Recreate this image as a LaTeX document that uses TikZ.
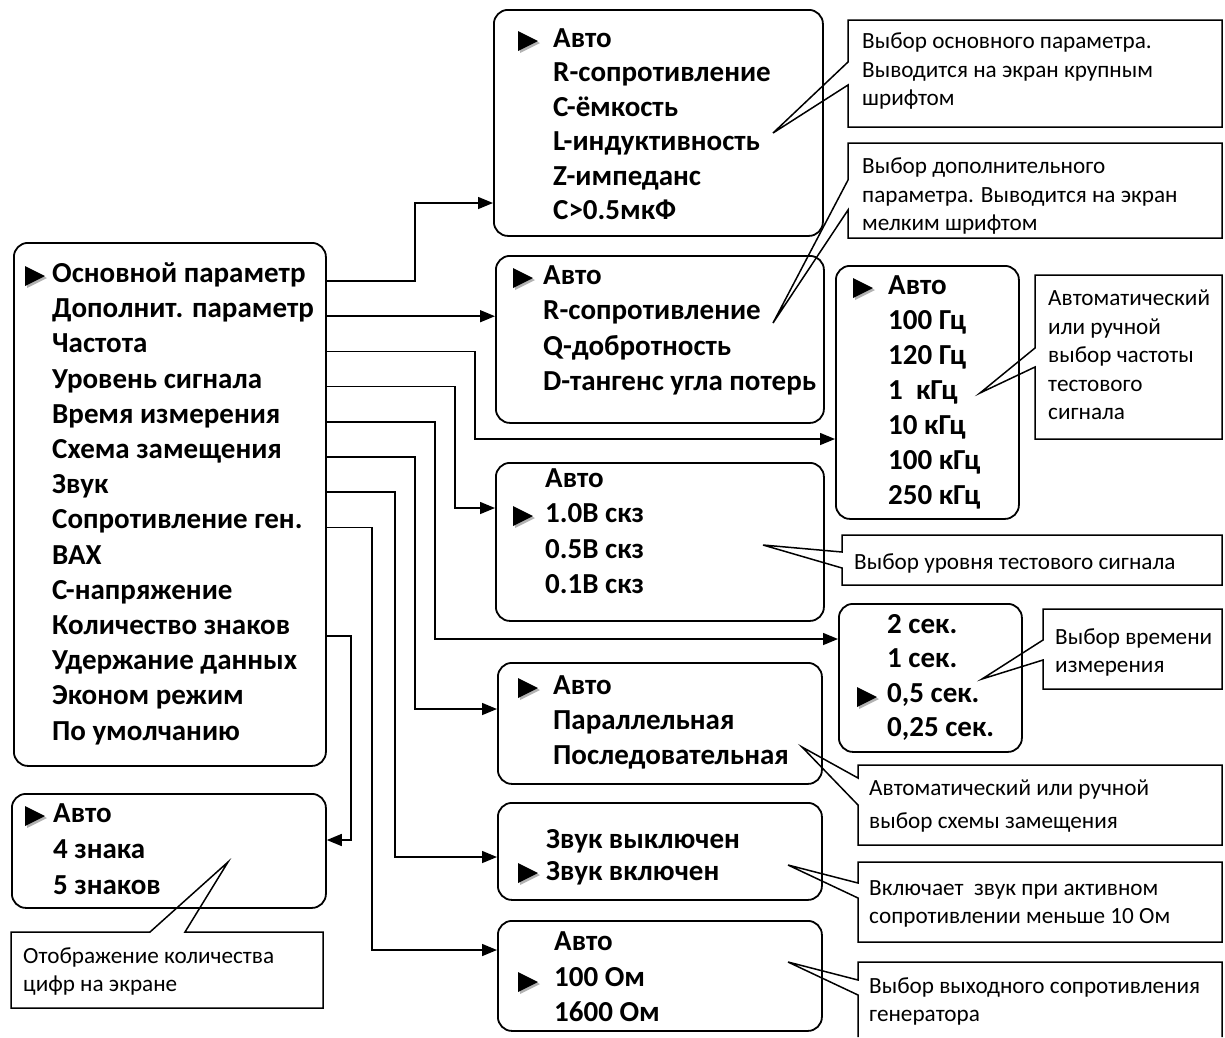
\documentclass[tikz,border=0pt]{standalone}
\usepackage{fontspec}
\setmainfont{Carlito}
\usetikzlibrary{arrows.meta}

\tikzset{
  menubox/.style={draw, line width=1.8pt, rounded corners=14pt, anchor=north west, inner sep=0pt},
  item/.style={anchor=west, inner sep=0pt, text height=20pt, text depth=7pt, font=\bfseries\fontsize{29}{31}\selectfont},
  note/.style={anchor=north west, inner sep=0pt, align=left, font=\fontsize{23.2}{28.5}\selectfont},
  balloon/.style={draw, line width=1.5pt, line join=miter},
  link/.style={line width=1.5pt, -{Triangle[length=15pt,width=12pt]}}
}

% list of menu lines: prefix, x, first y, step, items
\newcommand{\menulist}[5]{\foreach \t [count=\i] in {#5} \node[item] (#1\i) at (#2,{#3+#4*(\i-1)}) {\t};}
% selection mark
\newcommand{\selmark}[2]{%
  \fill[black!30] (#1+2,#2-8) -- (#1+22,#2+2) -- (#1+2,#2+12) -- cycle;
  \fill (#1,#2-10) -- (#1+20,#2) -- (#1,#2+10) -- cycle;}
% callout: left, top, right, bottom, base1, base2, tip x, tip y
\newcommand{\balloon}[8]{\draw[balloon] (#1,#2) -- (#3,#2) -- (#3,#4) -- (#1,#4) -- (#1,#6) -- (#7,#8) -- (#1,#5) -- cycle;}

\begin{document}
\begin{tikzpicture}[x=1pt,y=-1pt]
\useasboundingbox (0,0) rectangle (1225,1037);

% main menu
\node[menubox, minimum width=312pt, minimum height=523pt] (main) at (13,242) {};
\menulist{m}{52}{276}{35.2}{Основной параметр, Дополнит. параметр, Частота, Уровень сигнала, Время измерения, Схема замещения, Звук, Сопротивление ген., ВАХ, С-напряжение, Количество знаков, Удержание данных, Эконом режим, По умолчанию}
\selmark{25}{276}

% sub menus
\node[menubox, minimum width=329pt, minimum height=226pt] (boxA) at (493,9) {};
\menulist{a}{553}{41}{34.4}{Авто, R-сопротивление, С-ёмкость, L-индуктивность, Z-импеданс, C>0.5мкФ}
\selmark{518}{41}

\node[menubox, minimum width=328pt, minimum height=167pt] (boxB) at (495,255) {};
\menulist{b}{543}{278}{35.3}{Авто, R-сопротивление, Q-добротность, D-тангенс угла потерь}
\selmark{513}{278}

\node[menubox, minimum width=183pt, minimum height=253pt] (boxF) at (835,265) {};
\menulist{f}{888}{288}{35}{Авто, 100 Гц, 120 Гц, 1\ \ кГц, 10 кГц, 100 кГц, 250 кГц}
\selmark{853}{288}

\node[menubox, minimum width=328pt, minimum height=158pt] (boxC) at (495,462) {};
\menulist{c}{545}{481}{35.3}{Авто, 1.0В скз, 0.5В скз, 0.1В скз}
\selmark{513}{516}

\node[menubox, minimum width=183pt, minimum height=148pt] (boxT) at (838,603) {};
\menulist{t}{887}{627}{34.3}{2 сек., 1 сек., {0,5 сек.}, {0,25 сек.}}
\selmark{857}{697}

\node[menubox, minimum width=324pt, minimum height=121pt] (boxS) at (497,662) {};
\menulist{s}{553}{688}{35}{Авто, Параллельная, Последовательная}
\selmark{518}{688}

\node[menubox, minimum width=324pt, minimum height=97pt] (boxZ) at (497,802) {};
\menulist{z}{546}{842}{31.5}{Звук выключен, Звук включен}
\selmark{518}{873}

\node[menubox, minimum width=324pt, minimum height=110pt] (boxR) at (497,920) {};
\menulist{r}{554}{944}{35.5}{Авто, 100 Ом, 1600 Ом}
\selmark{518}{982}

\node[menubox, minimum width=314pt, minimum height=114pt] (boxD) at (11,793) {};
\menulist{d}{53}{816}{36}{Авто, 4 знака, 5 знаков}
\selmark{25}{816}

% connectors
\draw[link] ([yshift=-5pt]main.east |- m2) -- ([yshift=-5pt]boxB.west |- m2);
\foreach \s/\xx/\yy/\d in {1/415/203/boxA, 3/475/439/boxF, 4/455/508/boxC, 5/435/639/boxT, 6/415/709/boxS, 7/395/857/boxZ, 8/372/950/boxR}
  \draw[link] ([yshift=-5pt]main.east |- m\s) -| (\xx,\yy) -- (\d.west |- \xx,\yy);
\draw[link] ([yshift=-8pt]main.east |- m11) -| (351,840) -- (boxD.east |- 351,840);

% callouts
\balloon{848}{20}{1222}{127}{62}{85}{773}{133}
\node[note] (n1) at (862,33) {Выбор основного параметра.\\Выводится на экран крупным\\шрифтом};
\balloon{848}{143}{1222}{238}{180}{210}{773}{323}
\node[note] (n2) at (862,158) {Выбор дополнительного\\параметра. Выводится на экран\\мелким шрифтом};
\balloon{1035}{275}{1222}{439}{348}{367}{980}{393}
\node[note] (n3) at (1048,290) {Автоматический\\или ручной\\выбор частоты\\тестового\\сигнала};
\balloon{842}{535}{1222}{585}{552}{568}{763}{545}
\node[note] (n4) at (854,553) {Выбор уровня тестового сигнала};
\balloon{1043}{609}{1222}{689}{640}{660}{982}{679}
\node[note] (n5) at (1055,628) {Выбор времени\\измерения};
\balloon{858}{765}{1222}{845}{778}{805}{802}{747}
\node[note] (n6) at (869,780) {Автоматический или ручной\\[4pt]выбор схемы замещения};
\balloon{858}{862}{1222}{942}{883}{898}{788}{865}
\node[note] (n7) at (869,880) {Включает\ \ звук при активном\\сопротивлении меньше 10 Ом};
\draw[balloon] (858,1037) -- (858,995) -- (788,962) -- (858,980) -- (858,962) -- (1222,962) -- (1222,1037);
\node[note] (n8) at (869,977) {Выбор выходного сопротивления\\генератора};
\draw[balloon] (11,932) -- (150,932) -- (228,862) -- (185,932) -- (323,932) -- (323,1008) -- (11,1008) -- cycle;
\node[note] (n9) at (23,947) {Отображение количества\\цифр на экране};
\end{tikzpicture}
\end{document}
